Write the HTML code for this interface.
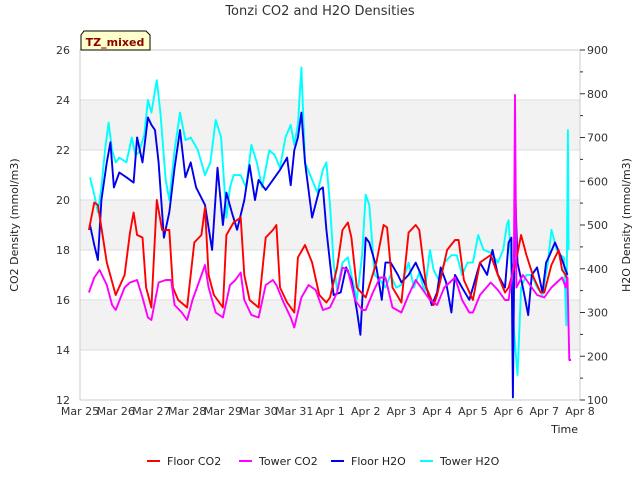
<!DOCTYPE html>
<html><head><meta charset="utf-8"><style>
body{margin:0;background:#fff;font-family:"Liberation Sans","DejaVu Sans",sans-serif;}
svg text{font-family:"DejaVu Sans","Liberation Sans",sans-serif;}
</style></head><body>
<svg id="chart" width="640" height="480" xmlns="http://www.w3.org/2000/svg">
<rect width="640" height="480" fill="#fff"/>
<g id="bands"></g><g id="grid"></g>
<rect x="80" y="50" width="500" height="350" fill="none" stroke="#ccc"/>
<g id="series"></g><g id="axes"></g>
<text x="320" y="15" text-anchor="middle" font-size="13" fill="#333">Tonzi CO2 and H2O Densities</text>
<text transform="translate(18,225) rotate(-90)" text-anchor="middle" font-size="11" fill="#222">CO2 Density (mmol/m3)</text>
<text transform="translate(630,225) rotate(-90)" text-anchor="middle" font-size="11" fill="#222">H2O Density (mmol/m3)</text>
<text x="578" y="433" text-anchor="end" font-size="11" fill="#222">Time</text>
<g>
<polygon points="84,31 146,31 150,35 150,50 81,50 81,35" fill="#ffffcc" stroke="#000" stroke-width="1"/>
<text x="115" y="46" text-anchor="middle" font-size="11" font-weight="bold" fill="#8b0000">TZ_mixed</text>
</g>
<g id="legend"></g>
</svg>
<script>
const xTickLabels=["Mar 25","Mar 26","Mar 27","Mar 28","Mar 29","Mar 30","Mar 31","Apr 1","Apr 2","Apr 3","Apr 4","Apr 5","Apr 6","Apr 7","Apr 8"];
const leftTicks=[12,14,16,18,20,22,24,26];
const rightTicks=[100,200,300,400,500,600,700,800,900];
const floorCO2T=[0.25,0.4,0.5,0.75,1.0,1.25,1.4,1.5,1.6,1.75,1.85,2.0,2.15,2.3,2.5,2.6,2.75,3.0,3.2,3.4,3.5,3.6,3.75,4.0,4.1,4.3,4.5,4.6,4.75,5.0,5.2,5.4,5.5,5.6,5.8,6.0,6.1,6.3,6.5,6.7,6.9,7.0,7.2,7.35,7.5,7.6,7.75,8.0,8.3,8.5,8.6,8.75,9.0,9.2,9.4,9.5,9.7,9.9,10.0,10.28,10.5,10.6,10.75,11.0,11.2,11.3,11.5,11.7,11.9,12.0,12.2,12.35,12.5,12.7,12.9,13.0,13.2,13.4,13.5,13.6,13.65];
const floorCO2=[18.8,19.9,19.8,17.5,16.2,17,18.7,19.5,18.6,18.5,16.5,15.7,20.0,18.8,18.8,16.5,16.0,15.7,18.3,18.6,19.7,17,16.2,15.7,18.6,19.1,19.3,17,16,15.7,18.5,18.8,19.0,16.5,15.9,15.5,17.7,18.2,17.5,16.2,15.9,16.1,17.3,18.8,19.1,18.5,16.5,16.1,17.5,19.0,18.9,16.5,15.9,18.7,19.0,18.8,16.5,15.8,16.2,18.0,18.4,18.4,16.8,16.0,17.5,17.6,17.8,17.0,16.3,16.5,17.5,18.6,17.8,16.9,16.3,16.3,17.4,18.0,17.2,17.0,16.8];
const towerCO2T=[0.25,0.4,0.55,0.75,0.9,1.0,1.25,1.4,1.6,1.75,1.9,2.0,2.2,2.4,2.55,2.65,2.85,3.0,3.15,3.3,3.5,3.6,3.8,4.0,4.2,4.35,4.5,4.6,4.8,5.0,5.2,5.4,5.5,5.7,5.9,6.0,6.2,6.4,6.6,6.8,7.0,7.2,7.35,7.5,7.7,7.9,8.0,8.2,8.4,8.55,8.75,9.0,9.2,9.4,9.6,9.8,10.0,10.2,10.5,10.7,10.9,11.0,11.2,11.5,11.7,11.9,12.0,12.15,12.18,12.22,12.4,12.6,12.8,13.0,13.2,13.5,13.6,13.65,13.7,13.75];
const towerCO2=[16.3,16.9,17.2,16.6,15.8,15.6,16.5,16.7,16.8,16.1,15.3,15.2,16.7,16.8,16.8,15.8,15.5,15.2,16.0,16.6,17.4,16.5,15.5,15.3,16.6,16.8,17.1,16.0,15.4,15.3,16.6,16.8,16.6,15.9,15.3,14.9,16.1,16.6,16.4,15.6,15.7,16.3,17.3,17.2,16.0,15.6,15.6,16.3,16.9,16.9,15.7,15.5,16.2,16.8,16.4,16.0,15.8,16.5,16.9,16.0,15.5,15.5,16.2,16.7,16.4,16.0,16.0,17.5,24.2,16.5,17.0,16.6,16.2,16.1,16.5,16.9,16.5,16.9,13.6,13.6];
const floorH2OT=[0.28,0.4,0.5,0.6,0.75,0.85,0.95,1.1,1.3,1.5,1.6,1.75,1.9,2.0,2.1,2.2,2.35,2.5,2.65,2.8,2.95,3.1,3.25,3.5,3.7,3.85,4.0,4.1,4.25,4.4,4.6,4.75,4.9,5.0,5.2,5.4,5.6,5.8,5.9,6.0,6.1,6.2,6.3,6.5,6.7,6.8,6.9,7.0,7.1,7.3,7.45,7.6,7.75,7.85,8.0,8.1,8.3,8.45,8.55,8.7,8.9,9.0,9.2,9.4,9.55,9.7,9.85,10.0,10.1,10.25,10.4,10.5,10.7,10.9,11.0,11.2,11.4,11.55,11.7,11.9,12.0,12.08,12.12,12.18,12.25,12.4,12.55,12.65,12.8,12.95,13.05,13.15,13.3,13.45,13.6,13.65];
const floorH2O=[500,454,420,557,643,689,586,620,609,597,700,643,746,729,717,643,471,529,631,717,609,643,586,546,443,631,500,574,529,489,557,637,557,603,580,603,626,654,591,671,700,757,643,517,580,586,489,414,340,346,403,374,306,249,471,460,403,329,414,414,386,369,386,414,386,357,317,346,403,369,300,386,357,329,357,414,386,443,386,357,460,471,106,591,414,357,294,386,403,346,414,431,460,431,397,386];
const towerH2OT=[0.28,0.4,0.5,0.6,0.7,0.8,0.9,1.0,1.1,1.3,1.45,1.55,1.65,1.8,1.9,2.0,2.15,2.25,2.4,2.5,2.65,2.8,2.95,3.1,3.3,3.5,3.65,3.8,3.95,4.1,4.2,4.3,4.5,4.65,4.8,4.95,5.1,5.3,5.45,5.6,5.75,5.9,6.0,6.1,6.2,6.3,6.5,6.65,6.8,6.9,7.0,7.1,7.2,7.35,7.5,7.6,7.75,7.9,8.0,8.1,8.25,8.4,8.55,8.7,8.85,9.0,9.2,9.35,9.5,9.65,9.8,9.9,10.05,10.2,10.4,10.55,10.7,10.85,11.0,11.15,11.3,11.5,11.7,11.85,11.95,12.0,12.05,12.15,12.25,12.35,12.5,12.65,12.8,12.95,13.1,13.2,13.35,13.45,13.55,13.62,13.66,13.68];
const towerH2O=[609,569,529,586,671,734,671,643,654,643,700,660,666,706,786,757,831,757,603,557,671,757,694,700,671,614,643,740,700,517,586,614,614,586,683,643,586,671,660,631,700,729,683,729,860,643,603,574,626,643,546,414,351,414,426,386,329,431,569,546,386,374,357,386,357,363,414,357,391,346,443,397,374,414,431,431,386,414,414,477,443,437,414,443,500,511,443,260,157,357,386,386,357,340,414,489,443,431,426,271,717,443];

const X0=80,X1=580,Y0=50,Y1=400;
const xs=d=>X0+d*(X1-X0)/14;
const yl=v=>Y1-(v-12)*(Y1-Y0)/14;
const yr=v=>Y1-(v-100)*(Y1-Y0)/800;
const NS="http://www.w3.org/2000/svg";
function mk(tag,attrs,parent){const e=document.createElementNS(NS,tag);for(const k in attrs)e.setAttribute(k,attrs[k]);parent.appendChild(e);return e;}
const bands=document.getElementById('bands'),grid=document.getElementById('grid'),axes=document.getElementById('axes'),series=document.getElementById('series'),legend=document.getElementById('legend');
for(let v=14;v<26;v+=4){const r=mk('rect',{x:X0,y:yl(v+2),width:X1-X0,height:yl(v)-yl(v+2),fill:'#f2f2f2'},bands);

}
leftTicks.forEach(v=>{const l=mk('line',{x1:X0,x2:X1,y1:yl(v),y2:yl(v),stroke:'#ddd'},grid);


const t=mk('text',{x:70,y:yl(v)+4,'text-anchor':'end','font-size':11,fill:'#333'},axes);t.textContent=v;

});
rightTicks.forEach(v=>{mk('line',{x1:X1,x2:X1+5,y1:yr(v),y2:yr(v),stroke:'#333'},axes);
if(v<900)mk('line',{x1:X1,x2:X1+3,y1:yr(v+50),y2:yr(v+50),stroke:'#333'},axes);
const t=mk('text',{x:587,y:yr(v)+4,'font-size':11,fill:'#333'},axes);t.textContent=v;

});
xTickLabels.forEach((s,i)=>{const t=mk('text',{x:xs(i),y:415,'text-anchor':'middle','font-size':11,fill:'#333'},axes);t.textContent=s;

});
function line(T,V,ys,color,name){const p=mk('polyline',{points:T.map((t,i)=>xs(t).toFixed(1)+','+ys(V[i]).toFixed(1)).join(' '),fill:'none',stroke:color,'stroke-width':1.9,'stroke-linejoin':'round'},series);

}
line(towerH2OT,towerH2O,yr,'#00ffff','tower-h2o-line');
line(floorH2OT,floorH2O,yr,'#0000ee','floor-h2o-line');
line(floorCO2T,floorCO2,yl,'#ff0000','floor-co2-line');
line(towerCO2T,towerCO2,yl,'#ff00ff','tower-co2-line');
const leg=[["Floor CO2","#ff0000",147],["Tower CO2","#ff00ff",239],["Floor H2O","#0000ee",331],["Tower H2O","#00ffff",420]];
leg.forEach(([s,c,x])=>{const g=mk('g',{},legend);


mk('line',{x1:x,x2:x+13,y1:461,y2:461,stroke:c,'stroke-width':2},g);
const t=mk('text',{x:x+20,y:465,'font-size':11,fill:'#222'},g);t.textContent=s;});
</script>
</body></html>
